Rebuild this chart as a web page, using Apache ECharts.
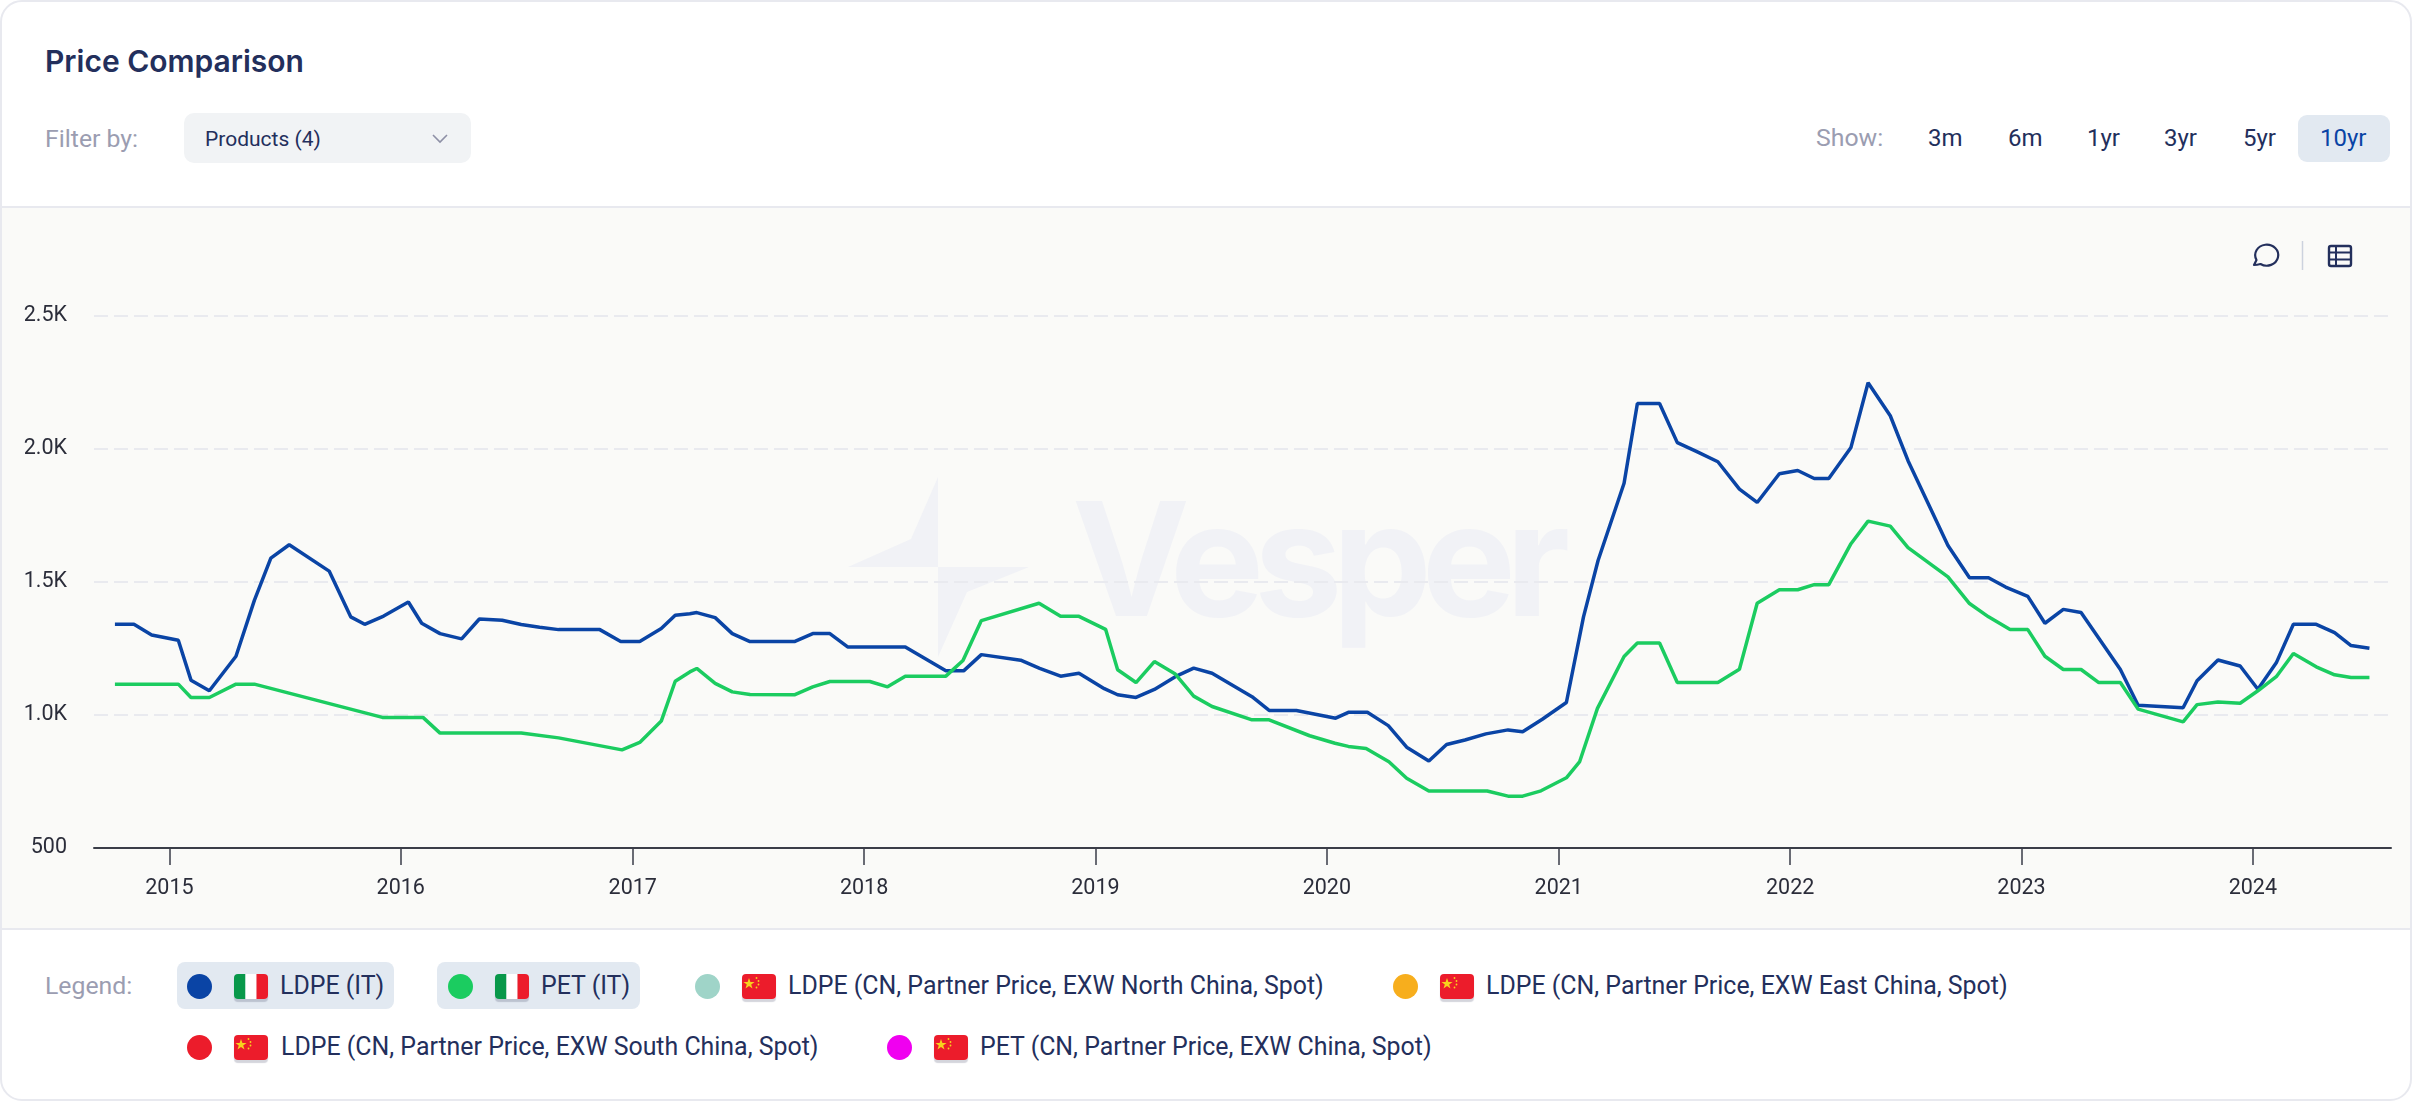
<!DOCTYPE html>
<html><head><meta charset="utf-8"><title>Price Comparison</title>
<script src="https://cdn.jsdelivr.net/npm/echarts@6/dist/echarts.min.js"></script>
<style>
html,body{margin:0;padding:0;background:#fff;width:2412px;height:1101px;overflow:hidden;font-family:Roboto,sans-serif;color:#232f5c}
#card{position:absolute;left:0;top:0;width:2412px;height:1101px;box-sizing:border-box;border:2px solid #e8e9ef;border-radius:22px;overflow:hidden;background:#fff}
.abs{position:absolute;white-space:nowrap;line-height:1}
#plot{position:absolute;left:2px;top:206px;width:2408px;height:724px;background:#fafaf8;border-top:2px solid #e8e9ef;border-bottom:2px solid #e8e9ef;box-sizing:border-box}
</style></head><body>
<div id="card"></div>
<div id="plot"></div>
<svg class="abs" id="wm" style="left:0;top:0" width="2412" height="1101"></svg>
<div id="chart" class="abs" style="left:0;top:208px;width:2412px;height:721px"></div>
<div id="ui"></div>
<script>
const yTicks = [500, 1000, 1500, 2000, 2500];
const yearTicks = [2015, 2016, 2017, 2018, 2019, 2020, 2021, 2022, 2023, 2024];
const ranges = ['3m', '6m', '1yr', '3yr', '5yr', '10yr'];
const ldpeDates = ['2014-10-07','2014-11-06','2014-12-04','2015-01-15','2015-02-04','2015-03-05','2015-04-16','2015-05-15','2015-06-10','2015-07-09','2015-09-10','2015-10-14','2015-11-05','2015-12-05','2016-01-13','2016-02-03','2016-03-03','2016-04-06','2016-05-04','2016-06-09','2016-07-09','2016-08-07','2016-09-06','2016-11-10','2016-12-13','2017-01-12','2017-02-15','2017-03-09','2017-04-01','2017-04-12','2017-05-11','2017-06-07','2017-07-05','2017-09-13','2017-10-12','2017-11-08','2017-12-06','2018-03-07','2018-05-10','2018-06-07','2018-07-05','2018-09-05','2018-10-05','2018-11-07','2018-12-06','2019-01-15','2019-02-05','2019-03-06','2019-04-04','2019-05-07','2019-06-05','2019-07-04','2019-09-05','2019-10-02','2019-11-14','2020-01-15','2020-02-04','2020-03-05','2020-04-07','2020-05-06','2020-06-10','2020-07-08','2020-08-06','2020-09-08','2020-10-13','2020-11-05','2020-12-06','2021-01-13','2021-02-09','2021-03-04','2021-04-14','2021-05-05','2021-06-09','2021-07-07','2021-08-06','2021-09-09','2021-10-13','2021-11-10','2021-12-15','2022-01-13','2022-02-08','2022-03-03','2022-04-07','2022-05-04','2022-06-08','2022-07-06','2022-09-07','2022-10-11','2022-11-10','2022-12-07','2023-01-11','2023-02-07','2023-03-08','2023-04-05','2023-06-06','2023-07-04','2023-09-13','2023-10-05','2023-11-07','2023-12-12','2024-01-09','2024-02-07','2024-03-05','2024-04-10','2024-05-09','2024-06-04','2024-07-03'];
const ldpeValues = [1341,1341,1301,1281,1131,1091,1221,1431,1590,1640,1541,1369,1341,1372,1425,1345,1306,1286,1361,1356,1340,1330,1321,1321,1276,1276,1325,1375,1381,1385,1366,1306,1276,1276,1306,1306,1256,1256,1166,1166,1227,1206,1175,1146,1157,1099,1076,1066,1096,1144,1176,1157,1069,1017,1017,988,1010,1010,960,879,827,889,906,929,944,937,984,1047,1369,1581,1871,2171,2171,2024,1991,1952,1849,1799,1907,1919,1889,1889,2006,2249,2125,1956,1637,1516,1516,1481,1446,1345,1397,1385,1171,1037,1027,1129,1207,1184,1097,1196,1341,1341,1310,1261,1251];
const petDates = ['2014-10-07','2015-01-15','2015-02-04','2015-03-05','2015-04-16','2015-05-15','2015-12-03','2016-02-05','2016-03-03','2016-07-09','2016-09-06','2016-12-15','2017-01-12','2017-02-15','2017-03-09','2017-04-01','2017-04-12','2017-05-11','2017-06-07','2017-07-05','2017-09-13','2017-10-12','2017-11-08','2018-01-10','2018-02-07','2018-03-07','2018-05-10','2018-06-06','2018-07-05','2018-10-04','2018-11-07','2018-12-06','2019-01-17','2019-02-05','2019-03-06','2019-04-04','2019-05-07','2019-06-05','2019-07-04','2019-09-05','2019-10-02','2019-12-05','2020-01-14','2020-02-04','2020-03-03','2020-04-08','2020-05-06','2020-06-10','2020-09-10','2020-10-13','2020-11-05','2020-12-04','2021-01-13','2021-02-03','2021-03-03','2021-04-14','2021-05-05','2021-06-09','2021-07-07','2021-09-09','2021-10-13','2021-11-10','2021-12-15','2022-01-13','2022-02-08','2022-03-03','2022-04-07','2022-05-04','2022-06-08','2022-07-06','2022-09-07','2022-10-11','2022-11-10','2022-12-14','2023-01-11','2023-02-07','2023-03-08','2023-04-05','2023-05-03','2023-06-06','2023-07-04','2023-09-13','2023-10-05','2023-11-07','2023-12-12','2024-01-09','2024-02-07','2024-03-05','2024-04-10','2024-05-09','2024-06-04','2024-07-03'];
const petValues = [1116,1116,1066,1066,1116,1116,991,991,932,932,914,869,897,977,1127,1162,1175,1119,1087,1077,1076,1106,1126,1126,1106,1146,1146,1205,1355,1420,1371,1371,1322,1170,1122,1201,1154,1071,1032,982,982,922,894,882,874,824,762,714,714,695,695,715,764,825,1025,1220,1271,1271,1122,1122,1172,1420,1471,1471,1490,1490,1644,1729,1710,1629,1519,1419,1369,1321,1321,1221,1171,1171,1122,1122,1022,974,1039,1049,1044,1091,1144,1231,1181,1151,1141,1141];
const legendLabels = ['LDPE (IT)','PET (IT)','LDPE (CN, Partner Price, EXW North China, Spot)','LDPE (CN, Partner Price, EXW East China, Spot)','LDPE (CN, Partner Price, EXW South China, Spot)','PET (CN, Partner Price, EXW China, Spot)'];
const legendColors = ['#0a44a5','#1bcc60','#9fd4c8','#f7ae1d','#ec1c2b','#f000f0'];
const legendFlags = ['it','it','cn','cn','cn','cn'];

function fmtY(v){ return v >= 1000 ? (v/1000).toFixed(1) + 'K' : String(v); }
const ms = d => Date.parse(d + 'T00:00:00Z');
const pair = (ds, vs) => ds.map((d, i) => [ms(d), vs[i]]);
const yearMs = yearTicks.map(y => Date.UTC(y, 0, 1));

const chart = echarts.init(document.getElementById('chart'), null, {renderer:'canvas'});
chart.setOption({
  animation: false, backgroundColor: 'transparent',
  grid: {left: 94, right: 21, top: 108, bottom: 81},
  xAxis: {
    type: 'value', min: ms('2014-09-04'), max: ms('2024-08-06'), scale: true,
    axisLine: {show: true, onZero: false, lineStyle: {color: '#3a3d48', width: 2}},
    axisTick: {show: true, length: 17, lineStyle: {color: '#3a3d48', width: 1.5}, customValues: yearMs},
    axisLabel: {color: '#2b2d3a', fontFamily: 'Roboto', fontSize: 21.5, margin: 30, customValues: yearMs,
      formatter: v => String(new Date(v + 43200000).getUTCFullYear())},
    splitLine: {show: false}
  },
  yAxis: {
    type: 'value', min: yTicks[0], max: yTicks[yTicks.length-1], interval: 500,
    axisLine: {show: false}, axisTick: {show: false},
    axisLabel: {color: '#2b2d3a', fontFamily: 'Roboto', fontSize: 21.5, margin: 27, formatter: fmtY},
    splitLine: {show: true, lineStyle: {color: '#e9eaef', width: 2, type: [14, 6]}}
  },
  series: [
    {name: legendLabels[0], type: 'line', data: pair(ldpeDates, ldpeValues), showSymbol: false, z: 2,
     lineStyle: {color: legendColors[0], width: 3.5}},
    {name: legendLabels[1], type: 'line', data: pair(petDates, petValues), showSymbol: false, z: 3,
     lineStyle: {color: legendColors[1], width: 3.5}}
  ]
});

/* watermark */
document.getElementById('wm').innerHTML =
 '<g fill="#f1f2f6"><path d="M938 477L911 539L848 567L938 567Z"/><path d="M938 567L1029 567L967 592L938 657Z"/>'+
 '<text x="1072" y="616" font-family="Inter" font-weight="700" font-size="158" textLength="498" lengthAdjust="spacing">Vesper</text></g>';

/* page chrome */
const ui = document.getElementById('ui');
function add(html){ ui.insertAdjacentHTML('beforeend', html); }
function text(t, x, cy, size, color, extra){
  add(`<div class="abs" style="left:${x}px;top:${cy}px;transform:translateY(-50%);font-size:${size}px;color:${color};${extra||''}">${t}</div>`);
}
text('Price Comparison', 45, 61, 30, '#232f5c', 'font-family:Inter;font-weight:600');
text('Filter by:', 45, 139, 24.8, '#9b9db1');
add('<div class="abs" style="left:184px;top:113px;width:287px;height:50px;background:#f1f3f5;border-radius:10px"></div>');
text('Products (4)', 205, 139, 21, '#232f5c');
add('<svg class="abs" style="left:430px;top:132px" width="20" height="14"><path d="M3 3L10 10L17 3" fill="none" stroke="#8e90a6" stroke-width="1.6"/></svg>');
text('Show:', 1816, 138, 24.8, '#9b9db1');
add('<div class="abs" style="left:2298px;top:115px;width:92px;height:47px;background:#e2e9f1;border-radius:9px"></div>');
const rangeX = [1928, 2008, 2087, 2164, 2243, 2320];
ranges.forEach((r, i) => text(r, rangeX[i], 138, 24, r === '10yr' ? '#0a44a5' : '#232f5c'));
add(`<svg class="abs" style="left:2250px;top:240px" width="110" height="32">
 <path d="M4 25 L6.500 20 A11.5 10.5 0 1 1 10.500 24 Q7 25 4 25Z" fill="none" stroke="#232f5c" stroke-width="2.2" stroke-linejoin="round"/>
 <line x1="52.5" y1="1" x2="52.5" y2="30" stroke="#ccd2de" stroke-width="1.5"/>
 <rect x="79" y="6" width="22" height="20" rx="2" fill="none" stroke="#232f5c" stroke-width="2.4"/>
 <path d="M79 12.5H101M79 19.5H101M86 6V26" stroke="#232f5c" stroke-width="2"/></svg>`);

/* legend */
function flag(kind, x, cy){
  const inner = kind === 'it'
    ? '<rect width="11.500" height="25" fill="#08984a"/><rect x="11.500" width="11" height="25" fill="#fff"/><rect x="22.500" width="11.500" height="25" fill="#ec1c2b"/>'
    : '<rect width="34" height="25" fill="#ec1c2b"/><polygon points="7,4 8.4,8 12.6,8 9.2,10.4 10.5,14.5 7,12 3.5,14.5 4.8,10.4 1.4,8 5.6,8" fill="#f7d21d"/><circle cx="14.5" cy="4" r=".9" fill="#f7d21d"/><circle cx="16.5" cy="7" r=".9" fill="#f7d21d"/><circle cx="16.5" cy="10.5" r=".9" fill="#f7d21d"/><circle cx="14.5" cy="13.5" r=".9" fill="#f7d21d"/>';
  add(`<div class="abs" style="left:${x}px;top:${cy-12.5}px;width:34px;height:25px;border-radius:4px;overflow:hidden;box-shadow:0 3px 1px rgba(40,45,80,.2)"><svg width="34" height="25" style="display:block">${inner}</svg></div>`);
}
text('Legend:', 45, 986, 24.8, '#9b9db1');
add('<div class="abs" style="left:177px;top:962px;width:217px;height:47px;background:#e2e9f1;border-radius:8px"></div>');
add('<div class="abs" style="left:437px;top:962px;width:203px;height:47px;background:#e2e9f1;border-radius:8px"></div>');
const legendPos = [[187,986,234,280],[448,986,495,541],[695,986,742,788],[1393,986,1440,1486],[187,1047,234,281],[887,1047,934,980]];
legendLabels.forEach((t, i) => {
  const p = legendPos[i];
  add(`<div class="abs" style="left:${p[0]}px;top:${p[1]-12.5}px;width:25px;height:25px;border-radius:50%;background:${legendColors[i]}"></div>`);
  flag(legendFlags[i], p[2], p[1]);
  text(t, p[3], p[1], 24.9, '#232f5c');
});
</script></body></html>
